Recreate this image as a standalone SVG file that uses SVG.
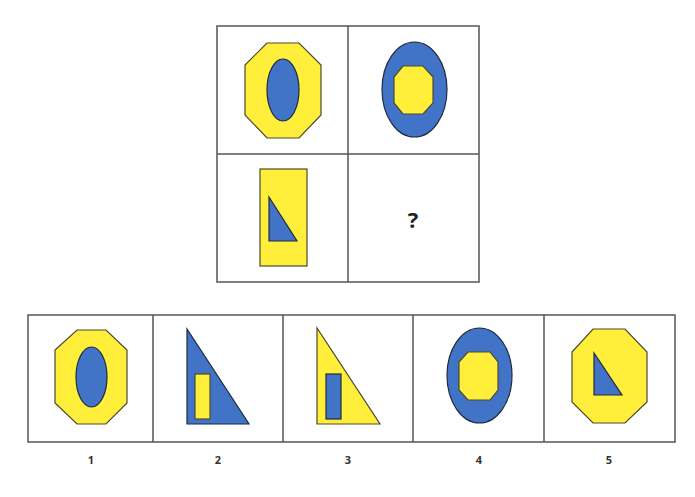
<svg xmlns="http://www.w3.org/2000/svg" width="695" height="497" viewBox="0 0 695 497">
<style>
.frame{fill:none;stroke:#555;stroke-width:1.5}
.y{fill:#FFEF3A;stroke:#4a4a30;stroke-width:1.2}
.b{fill:#4173C6;stroke:#1f2a40;stroke-width:1.2}
.lbl{font-family:"Open Sans","Liberation Sans",sans-serif;font-size:11px;font-weight:bold;fill:#333;text-anchor:middle}
.q{font-family:"Open Sans","Liberation Sans",sans-serif;font-size:22px;font-weight:bold;fill:#222;text-anchor:middle}
</style>
<rect width="695" height="497" fill="#fff"/>
<g id="grid">
<rect class="frame" x="217" y="26" width="262" height="256"/>
<line class="frame" x1="348" y1="26" x2="348" y2="282"/>
<line class="frame" x1="217" y1="154" x2="479" y2="154"/>
</g>
<g id="cell1">
<polygon class="y" points="267,43 299,43 321,65 321,115 299,138 267,138 245,115 245,65"/>
<ellipse class="b" cx="283" cy="90" rx="16" ry="31"/>
</g>
<g id="cell2">
<ellipse class="b" cx="414.5" cy="89.5" rx="32.5" ry="47.5"/>
<polygon class="y" points="403,66 423,66 433,77 433,103 423,114 403,114 394,103 394,77"/>
</g>
<g id="cell3">
<rect class="y" x="260" y="169" width="47" height="97"/>
<polygon class="b" points="269,197 269,241 297,241"/>
</g>
<g id="cell4">
<text class="q" x="413" y="228">?</text>
</g>
<g id="options">
<rect class="frame" x="28" y="315" width="647" height="127"/>
<line class="frame" x1="153" y1="315" x2="153" y2="442"/>
<line class="frame" x1="283" y1="315" x2="283" y2="442"/>
<line class="frame" x1="413" y1="315" x2="413" y2="442"/>
<line class="frame" x1="544" y1="315" x2="544" y2="442"/>
</g>
<g id="opt1">
<polygon class="y" points="77,330 106,330 127,350 127,403 106,424 77,424 55,403 55,350"/>
<ellipse class="b" cx="91.5" cy="377" rx="15.5" ry="30"/>
<text class="lbl" x="91" y="464">1</text>
</g>
<g id="opt2">
<polygon class="b" points="187,329 187,424 249,424"/>
<rect class="y" x="195" y="374" width="15" height="45"/>
<text class="lbl" x="218" y="464">2</text>
</g>
<g id="opt3">
<polygon class="y" points="317,328 317,424 380,424"/>
<rect class="b" x="326" y="374" width="15" height="45"/>
<text class="lbl" x="348" y="464">3</text>
</g>
<g id="opt4">
<ellipse class="b" cx="479.5" cy="375.5" rx="32.5" ry="47.5"/>
<polygon class="y" points="468,352 490,352 498,362 498,390 490,400 468,400 459,390 459,362"/>
<text class="lbl" x="479" y="464">4</text>
</g>
<g id="opt5">
<polygon class="y" points="593,329 625,329 647,352 647,402 625,423 593,423 572,402 572,352"/>
<polygon class="b" points="594,353 594,395 622,395"/>
<text class="lbl" x="609" y="464">5</text>
</g>
</svg>
